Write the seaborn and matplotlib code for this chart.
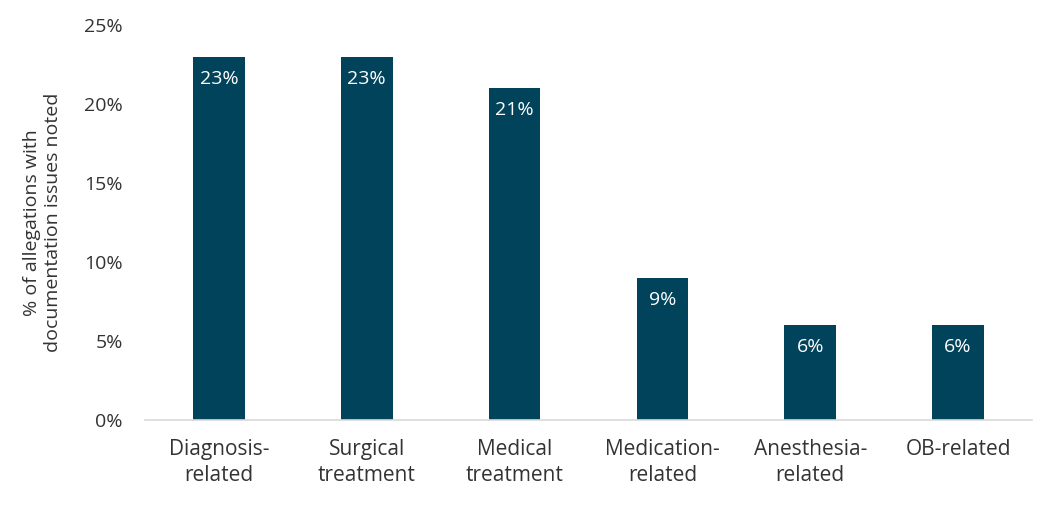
import pandas as pd
import numpy as np
import seaborn as sns
import matplotlib.pyplot as plt
from matplotlib.ticker import PercentFormatter

categories = ['Diagnosis-\nrelated', 'Surgical\ntreatment', 'Medical\ntreatment',
              'Medication-\nrelated', 'Anesthesia-\nrelated', 'OB-related']
values = [23, 23, 21, 9, 6, 6]

df = pd.DataFrame({'category': categories, 'value': values})

sns.set_theme(style='white')
plt.rcParams['font.family'] = ['Open Sans', 'DejaVu Sans']

bar_color = '#02435c'
text_color = '#333333'

fig = plt.figure(figsize=(10.53, 5.29), dpi=100)
ax = fig.add_axes([0.1377, 0.206, 0.8423, 0.7467])

sns.barplot(data=df, x='category', y='value', color=bar_color, width=0.35,
            saturation=1, linewidth=0, ax=ax)

# Value labels inside the top of each bar
for patch, v in zip(ax.patches, values):
    ax.annotate(f'{v}%', (patch.get_x() + patch.get_width() / 2, patch.get_height()),
                xytext=(0, -16), textcoords='offset points', ha='center', va='center',
                color='white', fontsize=14)

ax.set_xlim(-0.5, 5.5)
ax.set_ylim(0, 25)
ax.set_yticks(np.arange(0, 26, 5))
ax.yaxis.set_major_formatter(PercentFormatter(decimals=0))
ax.set_xlabel('')
ax.set_ylabel('% of allegations with\ndocumentation issues noted', fontsize=14,
              color=text_color, labelpad=16)
ax.tick_params(axis='y', labelsize=14, colors=text_color, length=0, pad=16)
ax.tick_params(axis='x', labelsize=15, colors=text_color, length=0, pad=14)
for lbl in ax.get_xticklabels():
    lbl.set_linespacing(1.3)

for side in ['top', 'right', 'left']:
    ax.spines[side].set_visible(False)
ax.spines['bottom'].set_color('#d9d9d9')
ax.spines['bottom'].set_linewidth(1.2)

fig.savefig('out.png', dpi=100)
